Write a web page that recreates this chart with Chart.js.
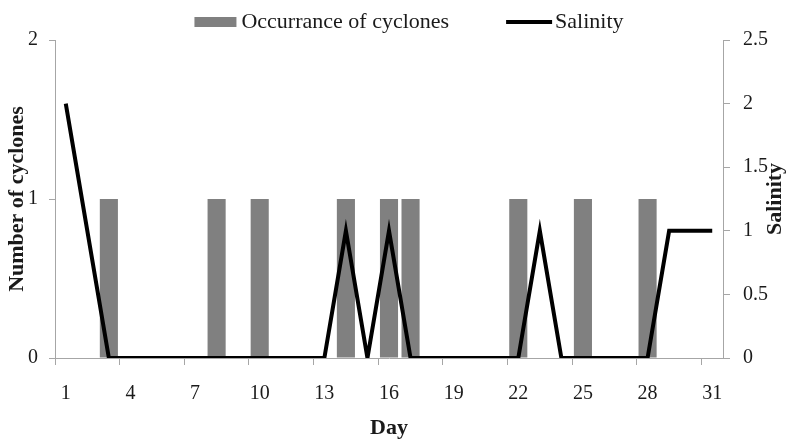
<!DOCTYPE html>
<html>
<head>
<meta charset="utf-8">
<script src="https://cdn.jsdelivr.net/npm/chart.js@4"></script>
<style>
  html, body { margin: 0; padding: 0; background: #ffffff; }
  #wrap { width: 786px; height: 442px; }
</style>
</head>
<body>
<div id="wrap"><canvas id="c" width="786" height="442"></canvas></div>
<script>
const days = ['1','2','3','4','5','6','7','8','9','10','11','12','13','14','15','16','17','18','19','20','21','22','23','24','25','26','27','28','29','30','31'];
const cyclones = [0,0,1,0,0,0,0,1,0,1,0,0,0,1,0,1,1,0,0,0,0,1,0,0,1,0,0,1,0,0,0];
const salinity = [2,1,0,0,0,0,0,0,0,0,0,0,0,1,0,1,0,0,0,0,0,0,1,0,0,0,0,0,1,1,1];
const cycloneTicks = [0,1,2];
const salinityTicks = [0,0.5,1,1.5,2,2.5];
const seriesNames = ['Occurrance of cyclones','Salinity'];
const axisTitles = { x: 'Day', y: 'Number of cyclones', y1: 'Salinity' };

const SERIF = "'Liberation Serif', 'Times New Roman', serif";
const AXIS_GREY = '#a6a6a6';
const TEXT = '#1a1a1a';
const BAR_GREY = '#808080';

// Right-hand axis title, read bottom-to-top like the left one
const rightTitlePlugin = {
  id: 'rightTitle',
  afterDraw(chart) {
    const s = chart.scales.y1;
    const ctx = chart.ctx;
    ctx.save();
    ctx.font = "bold 22px " + SERIF;
    ctx.fillStyle = TEXT;
    ctx.textAlign = 'center';
    ctx.textBaseline = 'middle';
    ctx.translate(s.right - 11, (s.top + s.bottom) / 2);
    ctx.rotate(-Math.PI / 2);
    ctx.fillText(axisTitles.y1, 0, 0);
    ctx.restore();
  }
};

// Legend drawn from the datasets, spaced like the original
const legendPlugin = {
  id: 'topLegend',
  afterDraw(chart) {
    const ctx = chart.ctx;
    const ds = chart.data.datasets;
    ctx.save();
    ctx.font = "22px " + SERIF;
    const symW = [42, 46];
    const gapAfterSym = [5, 3];
    const itemGap = 57;
    const widths = ds.map((d, i) => symW[i] + gapAfterSym[i] + ctx.measureText(d.label).width);
    const total = widths[0] + itemGap + widths[1];
    let x = (chart.width - total) / 2 + 16;
    const y = 22;
    ds.forEach((d, i) => {
      if (d.type === 'bar') {
        ctx.fillStyle = d.backgroundColor;
        ctx.fillRect(x, y - 5, symW[i], 10);
      } else {
        ctx.strokeStyle = d.borderColor;
        ctx.lineWidth = 4;
        ctx.beginPath();
        ctx.moveTo(x, y);
        ctx.lineTo(x + symW[i], y);
        ctx.stroke();
      }
      ctx.fillStyle = TEXT;
      ctx.textAlign = 'left';
      ctx.textBaseline = 'middle';
      ctx.fillText(d.label, x + symW[i] + gapAfterSym[i], y);
      x += widths[i] + itemGap;
    });
    ctx.restore();
  }
};

new Chart(document.getElementById('c'), {
  data: {
    labels: days,
    datasets: [
      {
        type: 'bar',
        label: seriesNames[0],
        data: cyclones,
        yAxisID: 'y',
        backgroundColor: BAR_GREY,
        borderWidth: 0,
        categoryPercentage: 1,
        barPercentage: 0.84,
        order: 2
      },
      {
        type: 'line',
        label: seriesNames[1],
        data: salinity,
        yAxisID: 'y1',
        borderColor: '#000000',
        backgroundColor: '#000000',
        borderWidth: 4,
        pointRadius: 0,
        tension: 0,
        borderJoinStyle: 'miter',
        fill: false,
        order: 1
      }
    ]
  },
  plugins: [rightTitlePlugin, legendPlugin],
  options: {
    responsive: false,
    animation: false,
    layout: { padding: { top: 40, left: 0, right: 0, bottom: 0 } },
    plugins: {
      tooltip: { enabled: false },
      legend: { display: false }
    },
    scales: {
      x: {
        type: 'category',
        offset: true,
        grid: {
          offset: true,
          drawOnChartArea: false,
          drawTicks: true,
          tickLength: 7,
          tickColor: (c) => (c.index % 3 === 0 ? AXIS_GREY : 'rgba(0,0,0,0)')
        },
        border: { display: true, color: AXIS_GREY, width: 1 },
        ticks: {
          autoSkip: false,
          maxRotation: 0,
          padding: 17,
          color: TEXT,
          font: { family: SERIF, size: 20 },
          callback: function (v, i) { return i % 3 === 0 ? this.getLabelForValue(v) : ''; }
        },
        title: {
          display: true,
          text: axisTitles.x,
          color: TEXT,
          font: { family: SERIF, size: 22, weight: 'bold' },
          padding: { top: 0, bottom: 0 }
        },
        afterFit(s) { s.height = 84; }
      },
      y: {
        position: 'left',
        min: 0,
        max: 2,
        afterBuildTicks(s) { s.ticks = cycloneTicks.map(v => ({ value: v })); },
        grid: { drawOnChartArea: false, drawTicks: true, tickLength: 6, tickColor: AXIS_GREY },
        border: { display: true, color: AXIS_GREY, width: 1 },
        ticks: {
          padding: 11,
          color: TEXT,
          font: { family: SERIF, size: 20 },
          callback: (v) => String(v)
        },
        title: {
          display: true,
          text: axisTitles.y,
          color: TEXT,
          font: { family: SERIF, size: 22, weight: 'bold' },
          padding: { top: 4, bottom: 0 }
        },
        afterFit(s) { s.width = 55; }
      },
      y1: {
        position: 'right',
        min: 0,
        max: 2.5,
        afterBuildTicks(s) { s.ticks = salinityTicks.map(v => ({ value: v })); },
        grid: { drawOnChartArea: false, drawTicks: true, tickLength: 7, tickColor: AXIS_GREY },
        border: { display: true, color: AXIS_GREY, width: 1 },
        ticks: {
          padding: 13,
          color: TEXT,
          font: { family: SERIF, size: 20 },
          callback: (v) => String(v)
        },
        afterFit(s) { s.width = 63; }
      }
    }
  }
});
</script>
</body>
</html>
